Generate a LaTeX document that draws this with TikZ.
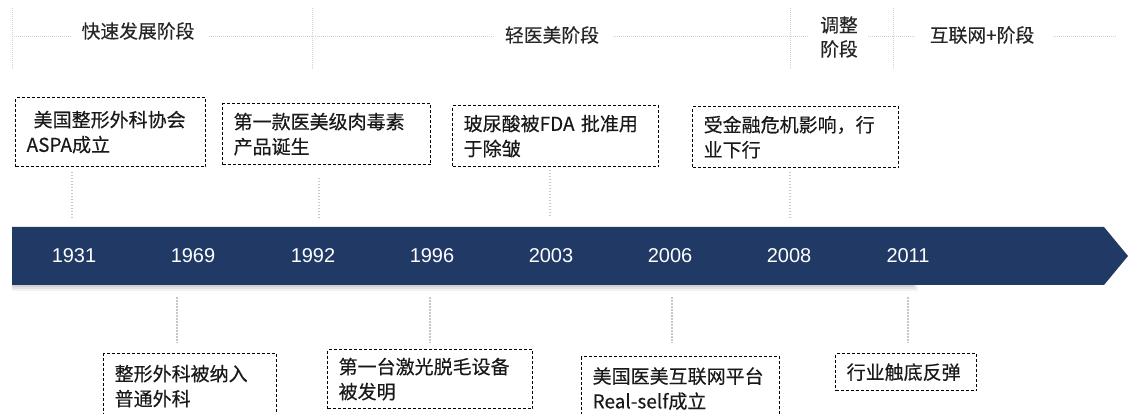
\documentclass[tikz,border=0pt]{standalone}
\usepackage{fontspec}
\newfontfamily\cjk{Noto Sans CJK SC}[FakeBold=0.3]
\newfontfamily\arialf{Liberation Sans}
\definecolor{navy}{HTML}{213965}
\definecolor{sepc}{HTML}{C9D2DE}
\definecolor{connc}{HTML}{C8C8C8}
\begin{document}
\begin{tikzpicture}[x=1pt,y=-1pt,
  sep/.style={draw=sepc, line width=0.8pt, dash pattern=on 1pt off 1pt},
  conn/.style={draw=connc, line width=1.5pt, dash pattern=on 1.5pt off 1.5pt},
  event/.style={draw=black, line width=1.3pt, dash pattern=on 3pt off 2pt, anchor=north west,
    inner xsep=11pt, inner ysep=0pt, align=left,
    font=\cjk\fontsize{19}{25}\selectfont, text=black!90},
  phase/.style={font=\cjk\fontsize{18.8}{24}\selectfont, text=black!85, align=center},
  year/.style={font=\arialf\fontsize{20}{22}\selectfont, text=white}
]
\clip (0,0) rectangle (1133,414);
\fill[white] (0,0) rectangle (1133,414);

% header separators
\foreach \x in {12,312,790,893} \draw[sep] (\x,8) -- (\x,70);
\draw[sep] (12,36) -- (72,36);
\draw[sep] (209,36) -- (495,36);
\draw[sep] (613,36) -- (808,36);
\draw[sep] (868,36) -- (915,36);
\draw[sep] (1053,36) -- (1117,36);

\node[phase] (p1) at (138,31) {快速发展阶段};
\node[phase] (p2) at (552,35) {轻医美阶段};
\node[phase] (p3) at (839,37) {调整\\阶段};
\node[phase] (p4) at (982,35) {互联网+阶段};

% bar shadow
\fill[black, opacity=0.05] (12,230) rectangle (918,291);
\fill[black, opacity=0.06] (12,229) rectangle (916,289);
\fill[black, opacity=0.08] (12,228) rectangle (914,287);
% bar
\fill[navy] (12,227) -- (1104,227) -- (1128,256) -- (1104,285) -- (12,285) -- cycle;

\node[year] (y1931) at (74,256) {1931};
\node[year] (y1969) at (193,256) {1969};
\node[year] (y1992) at (313,256) {1992};
\node[year] (y1996) at (432,256) {1996};
\node[year] (y2003) at (551,256) {2003};
\node[year] (y2006) at (670,256) {2006};
\node[year] (y2008) at (789,256) {2008};
\node[year] (y2011) at (908,256) {2011};

% top events
\node[event, text width=168pt, minimum height=69pt] (b1931) at (15,97) {\hspace*{7pt}美国整形外科协会\\ASPA成立};
\node[event, text width=186pt, minimum height=61pt] (b1992) at (222,103) {第一款医美级肉毒素\\产品诞生};
\node[event, text width=184pt, minimum height=61pt] (b2003) at (452,105) {玻尿酸被FDA 批准用\\于除皱};
\node[event, text width=184pt, minimum height=61pt] (b2008) at (692,106) {受金融危机影响，行\\业下行};

% bottom events
\node[event, text width=151pt, minimum height=65pt] (b1969) at (103,353) {整形外科被纳入\\普通外科};
\node[event, text width=183pt, minimum height=59pt] (b1996) at (327,349) {第一台激光脱毛设备\\被发明};
\node[event, text width=176pt, minimum height=64pt] (b2006) at (581,356) {美国医美互联网平台\\Real-self成立};
\node[event, text width=119pt, minimum height=37pt] (b2011) at (835,353) {行业触底反弹};

% connectors
\coordinate (t1931a) at (72,172);  \coordinate (t1931b) at (72,218);
\coordinate (t1992a) at (319,178); \coordinate (t1992b) at (319,218);
\coordinate (t2003a) at (550,170); \coordinate (t2003b) at (550,218);
\coordinate (t2008a) at (790,172); \coordinate (t2008b) at (790,218);
\coordinate (u1969a) at (177,297); \coordinate (u1969b) at (177,343);
\coordinate (u1996a) at (430,297); \coordinate (u1996b) at (430,343);
\coordinate (u2006a) at (672,297); \coordinate (u2006b) at (672,343);
\coordinate (u2011a) at (908,297); \coordinate (u2011b) at (908,343);
\draw[conn] (t1931a) -- (t1931b);
\draw[conn] (t1992a) -- (t1992b);
\draw[conn] (t2003a) -- (t2003b);
\draw[conn] (t2008a) -- (t2008b);
\draw[conn] (u1969a) -- (u1969b);
\draw[conn] (u1996a) -- (u1996b);
\draw[conn] (u2006a) -- (u2006b);
\draw[conn] (u2011a) -- (u2011b);
\end{tikzpicture}
\end{document}
